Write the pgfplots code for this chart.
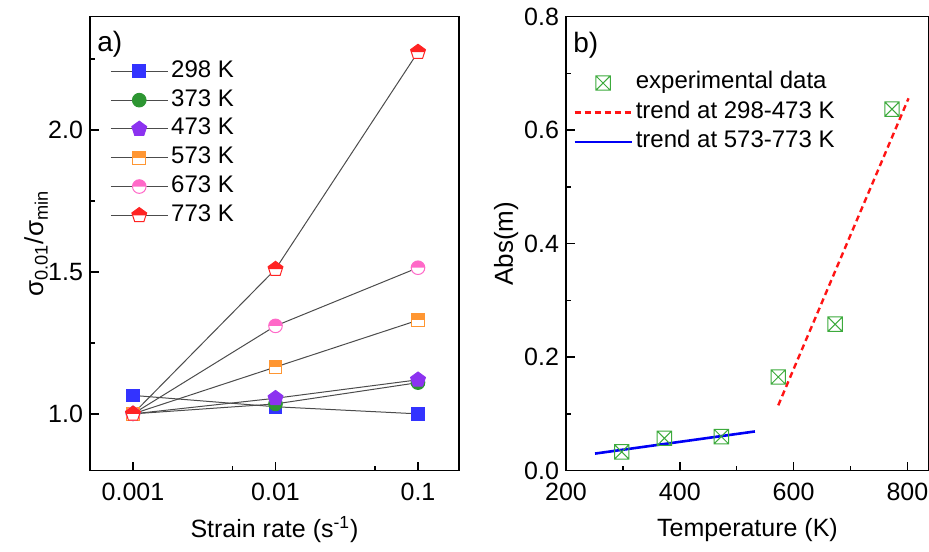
\documentclass[border=0pt]{standalone}
\usepackage{pgfplots}
\pgfplotsset{compat=1.18}
\usetikzlibrary{plotmarks}
\usepackage{fontspec}
\setmainfont{Liberation Sans}

\definecolor{cA}{RGB}{51,51,255}
\definecolor{cB}{RGB}{45,150,50}
\definecolor{cC}{RGB}{140,50,240}
\definecolor{cD}{RGB}{255,150,50}
\definecolor{cE}{RGB}{255,105,200}
\definecolor{cF}{RGB}{255,35,35}
\definecolor{expg}{RGB}{60,170,60}

\pgfdeclareplotmark{halfsq}{%
  \begin{pgfscope}%
  \pgfsetfillcolor{white}%
  \pgfpathrectangle{\pgfqpoint{-\pgfplotmarksize}{-\pgfplotmarksize}}{\pgfqpoint{2\pgfplotmarksize}{2\pgfplotmarksize}}%
  \pgfusepathqfill
  \end{pgfscope}%
  \pgfpathrectangle{\pgfqpoint{-\pgfplotmarksize}{0pt}}{\pgfqpoint{2\pgfplotmarksize}{\pgfplotmarksize}}%
  \pgfusepathqfill
  \pgfpathrectangle{\pgfqpoint{-\pgfplotmarksize}{-\pgfplotmarksize}}{\pgfqpoint{2\pgfplotmarksize}{2\pgfplotmarksize}}%
  \pgfusepathqstroke
}
\pgfdeclareplotmark{halfcirc}{%
  \begin{pgfscope}%
  \pgfsetfillcolor{white}%
  \pgfpathcircle{\pgfpointorigin}{\pgfplotmarksize}%
  \pgfusepathqfill
  \end{pgfscope}%
  \pgfpathmoveto{\pgfqpoint{\pgfplotmarksize}{0pt}}%
  \pgfpatharc{0}{180}{\pgfplotmarksize}%
  \pgfpathclose
  \pgfusepathqfill
  \pgfpathcircle{\pgfpointorigin}{\pgfplotmarksize}%
  \pgfusepathqstroke
}
\pgfdeclareplotmark{halfpent}{%
  \begin{pgfscope}%
  \pgfsetfillcolor{white}%
  \pgfpathmoveto{\pgfqpointpolar{90}{\pgfplotmarksize}}%
  \pgfpathlineto{\pgfqpointpolar{162}{\pgfplotmarksize}}%
  \pgfpathlineto{\pgfqpointpolar{234}{\pgfplotmarksize}}%
  \pgfpathlineto{\pgfqpointpolar{306}{\pgfplotmarksize}}%
  \pgfpathlineto{\pgfqpointpolar{18}{\pgfplotmarksize}}%
  \pgfpathclose
  \pgfusepathqfill
  \end{pgfscope}%
  \pgfpathmoveto{\pgfqpoint{-0.8507\pgfplotmarksize}{0pt}}%
  \pgfpathlineto{\pgfqpointpolar{162}{\pgfplotmarksize}}%
  \pgfpathlineto{\pgfqpointpolar{90}{\pgfplotmarksize}}%
  \pgfpathlineto{\pgfqpointpolar{18}{\pgfplotmarksize}}%
  \pgfpathlineto{\pgfqpoint{0.8507\pgfplotmarksize}{0pt}}%
  \pgfpathclose
  \pgfusepathqfill
  \pgfpathmoveto{\pgfqpointpolar{90}{\pgfplotmarksize}}%
  \pgfpathlineto{\pgfqpointpolar{162}{\pgfplotmarksize}}%
  \pgfpathlineto{\pgfqpointpolar{234}{\pgfplotmarksize}}%
  \pgfpathlineto{\pgfqpointpolar{306}{\pgfplotmarksize}}%
  \pgfpathlineto{\pgfqpointpolar{18}{\pgfplotmarksize}}%
  \pgfpathclose
  \pgfusepathqstroke
}
\pgfdeclareplotmark{boxx}{%
  \pgfpathrectangle{\pgfqpoint{-\pgfplotmarksize}{-\pgfplotmarksize}}{\pgfqpoint{2\pgfplotmarksize}{2\pgfplotmarksize}}%
  \pgfpathmoveto{\pgfqpoint{-\pgfplotmarksize}{-\pgfplotmarksize}}%
  \pgfpathlineto{\pgfqpoint{\pgfplotmarksize}{\pgfplotmarksize}}%
  \pgfpathmoveto{\pgfqpoint{-\pgfplotmarksize}{\pgfplotmarksize}}%
  \pgfpathlineto{\pgfqpoint{\pgfplotmarksize}{-\pgfplotmarksize}}%
  \pgfusepathqstroke
}

\pgfplotsset{
  base/.style={
    font=\fontsize{12.5}{14}\selectfont,
    /pgf/number format/assume math mode=true,
    scale only axis, height=227pt,
    tick align=inside, tick pos=left,
    major tick length=4.5pt, minor tick length=2.5pt,
    axis line style={line width=0.75pt},
    tick style={line width=0.7pt, black},
    xticklabel style={yshift=-2.5pt},
    yticklabel style={/pgf/number format/fixed, /pgf/number format/fixed zerofill, /pgf/number format/precision=1},
    label style={font=\fontsize{13.5}{15}\selectfont},
    clip=false,
  },
}

\begin{document}
\begin{tikzpicture}
\begin{axis}[base,
  at={(0pt,0pt)}, anchor=south west, width=184.5pt,
  xmode=log, xmin=4.99e-4, xmax=0.194,
  ymin=0.8, ymax=2.4,
  xtick={0.001,0.01,0.1}, xticklabels={0.001,0.01,0.1},
  minor xtick={0.005,0.05},
  ytick={1,1.5,2}, minor ytick={1.25,1.75,2.25},
  xlabel={Strain rate (s\textsuperscript{-1})},
  ylabel={σ\textsubscript{0.01}/σ\textsubscript{min}},
  every axis x label/.style={at={(axis description cs:0.5,-0.13)}, anchor=center},
  every axis y label/.style={at={(axis description cs:-0.146,0.5)}, rotate=90, anchor=center, font=\fontsize{13}{15}\selectfont},
  legend style={draw=none, fill=none, at={(axis description cs:0.054,0.912)}, anchor=north west,
    inner sep=0pt, row sep=0pt, font=\fontsize{12}{14}\selectfont,
    nodes={inner sep=1.5pt, text height=8.7pt, text depth=2.7pt}},
  legend cell align=left,
  legend image code/.code={\draw[mark repeat=2,mark phase=2] plot coordinates {(0cm,0cm)(0.5cm,0cm)(1.0cm,0cm)};},
  every axis plot/.append style={draw=black!70, line width=0.5pt},
]
\addplot[mark=square*, mark size=3.2pt, mark options={solid, draw=cA, fill=cA}] coordinates {(0.001,1.065)(0.01,1.025)(0.1,1.0)};
\addlegendentry{298 K}
\addplot[mark=*, mark size=3.4pt, mark options={solid, draw=cB, fill=cB}] coordinates {(0.001,1.0)(0.01,1.035)(0.1,1.11)};
\addlegendentry{373 K}
\addplot[mark=pentagon*, mark size=3.9pt, mark options={solid, draw=cC, fill=cC}] coordinates {(0.001,1.0)(0.01,1.055)(0.1,1.12)};
\addlegendentry{473 K}
\addplot[mark=halfsq, mark size=3.2pt, mark options={solid, draw=cD, fill=cD}] coordinates {(0.001,1.0)(0.01,1.165)(0.1,1.33)};
\addlegendentry{573 K}
\addplot[mark=halfcirc, mark size=3.4pt, mark options={solid, draw=cE, fill=cE}] coordinates {(0.001,1.0)(0.01,1.31)(0.1,1.515)};
\addlegendentry{673 K}
\addplot[mark=halfpent, mark size=3.9pt, mark options={solid, draw=cF, fill=cF}] coordinates {(0.001,1.0)(0.01,1.51)(0.1,2.275)};
\addlegendentry{773 K}
\node[anchor=west, inner sep=3.5pt, font=\fontsize{14}{16}\selectfont] at (axis description cs:0,0.938) {a)};
\end{axis}

\begin{axis}[base,
  at={(238pt,0pt)}, anchor=south west, width=181.5pt,
  xmin=200, xmax=838, ymin=0, ymax=0.8,
  xtick={200,400,600,800}, minor xtick={300,500,700},
  ytick={0,0.2,0.4,0.6,0.8}, minor ytick={0.1,0.3,0.5,0.7},
  xticklabel style={/pgf/number format/fixed},
  xlabel={Temperature (K)},
  ylabel={Abs(m)},
  every axis x label/.style={at={(axis description cs:0.5,-0.13)}, anchor=center},
  every axis y label/.style={at={(axis description cs:-0.165,0.5)}, rotate=90, anchor=center, font=\fontsize{13}{15}\selectfont},
  legend style={draw=none, fill=none, at={(axis description cs:0.019,0.887)}, anchor=north west,
    inner sep=0pt, row sep=0pt, font=\fontsize{12}{14}\selectfont,
    nodes={inner sep=1.5pt, text height=8.7pt, text depth=3.0pt}},
  legend cell align=left,
  legend image code/.code={\draw[mark repeat=2,mark phase=2] plot coordinates {(0cm,0cm)(0.5cm,0cm)(1.0cm,0cm)};},
]
\addplot[only marks, mark=boxx, mark size=3.6pt, mark options={solid, draw=expg, line width=0.5pt}] coordinates {(298,0.033)(373,0.057)(473,0.060)(573,0.165)(673,0.258)(773,0.637)};
\addlegendentry{experimental data}
\addplot[draw={rgb,255:red,255;green,20;blue,20}, line width=1.2pt, dash pattern=on 3pt off 2pt] coordinates {(573,0.115)(802,0.656)};
\addlegendentry{trend at 298-473 K}
\addplot[draw={rgb,255:red,0;green,0;blue,245}, line width=1.3pt] coordinates {(251,0.030)(532,0.069)};
\addlegendentry{trend at 573-773 K}
\node[anchor=west, inner sep=3.5pt, font=\fontsize{14}{16}\selectfont] at (axis description cs:0,0.938) {b)};
\end{axis}
\pgfresetboundingbox
\path[use as bounding box] (-45pt,-40.2pt) rectangle (419.5pt,235.3pt);
\end{tikzpicture}
\end{document}
